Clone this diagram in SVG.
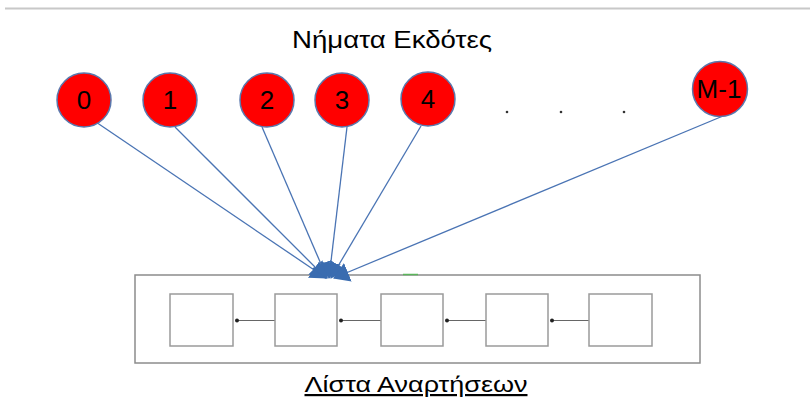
<svg xmlns="http://www.w3.org/2000/svg" width="810" height="403" viewBox="0 0 810 403">
<style>
.node circle{fill:#ff0000;stroke:#5a78ad;stroke-width:1.5}
.node text{font-family:"Liberation Sans",Arial,sans-serif;font-size:26px;fill:#000;text-anchor:middle}
.conn line.a{stroke:#4a74b4;stroke-width:1.3;marker-end:url(#ah)}
.box{fill:#fff;stroke:#9a9a9a;stroke-width:1.5}
.link{stroke:#666;stroke-width:1}
.lbl{font-family:"Liberation Sans",Arial,sans-serif;fill:#000;text-anchor:middle}
.dot{fill:#333}
</style>
<defs>
<marker id="ah" markerUnits="userSpaceOnUse" markerWidth="16" markerHeight="20" refX="15" refY="10" orient="auto">
<path d="M0,0 L16,10 L0,20 z" fill="#3a6cb0"/>
</marker>
<marker id="pt" markerUnits="userSpaceOnUse" markerWidth="6" markerHeight="6" refX="3" refY="3" orient="auto">
<circle cx="3" cy="3" r="2" fill="#222"/>
</marker>
</defs>
<rect width="810" height="403" fill="#fff"/>
<line x1="5" y1="8.5" x2="810" y2="8.5" stroke="#c8c8c8" stroke-width="2"/>
<text class="lbl" x="392" y="48" font-size="24" textLength="200" lengthAdjust="spacingAndGlyphs">Νήματα Εκδότες</text>
<g id="list">
<rect x="135" y="275" width="565" height="88" fill="#fff" stroke="#8c8c8c" stroke-width="1.5"/>
<line x1="403" y1="274.5" x2="418" y2="274.5" stroke="#5bb55b" stroke-width="1.5"/>
</g>
<g class="conn" id="connectors">
<line class="a" x1="90" y1="118" x2="326" y2="278"/>
<line class="a" x1="175" y1="127" x2="326" y2="278"/>
<line class="a" x1="262" y1="127" x2="327" y2="278"/>
<line class="a" x1="347" y1="127" x2="329" y2="278"/>
<line class="a" x1="421" y1="126" x2="331" y2="278"/>
<line class="a" x1="723" y1="116" x2="334" y2="278"/>
<line class="link" x1="275" y1="320.5" x2="237" y2="320.5" marker-end="url(#pt)"/>
<line class="link" x1="381" y1="320.5" x2="341" y2="320.5" marker-end="url(#pt)"/>
<line class="link" x1="486" y1="320.5" x2="447" y2="320.5" marker-end="url(#pt)"/>
<line class="link" x1="589" y1="320.5" x2="552" y2="320.5" marker-end="url(#pt)"/>
</g>
<g id="n0" class="node"><circle cx="84" cy="100" r="27"/><text x="84" y="109">0</text></g>
<g id="n1" class="node"><circle cx="170" cy="100" r="27"/><text x="170" y="109">1</text></g>
<g id="n2" class="node"><circle cx="267" cy="100" r="27"/><text x="267" y="109">2</text></g>
<g id="n3" class="node"><circle cx="342" cy="100" r="27"/><text x="342" y="109">3</text></g>
<g id="n4" class="node"><circle cx="428" cy="99" r="27"/><text x="428" y="108">4</text></g>
<g id="nM" class="node"><circle cx="720" cy="89" r="27.5"/><text x="719" y="98">M-1</text></g>
<g id="dots">
<circle class="dot" cx="507" cy="112" r="1.3"/>
<circle class="dot" cx="561" cy="112" r="1.3"/>
<circle class="dot" cx="624" cy="112" r="1.3"/>
</g>
<g id="b1"><rect class="box" x="170" y="294" width="63" height="52"/></g>
<g id="b2"><rect class="box" x="275" y="294" width="62" height="52"/></g>
<g id="b3"><rect class="box" x="381" y="294" width="62" height="52"/></g>
<g id="b4"><rect class="box" x="486" y="294" width="62" height="52"/></g>
<g id="b5"><rect class="box" x="589" y="294" width="63" height="52"/></g>
<text class="lbl" x="416" y="392" font-size="22" text-decoration="underline" textLength="223" lengthAdjust="spacingAndGlyphs">Λίστα Αναρτήσεων</text>
</svg>
